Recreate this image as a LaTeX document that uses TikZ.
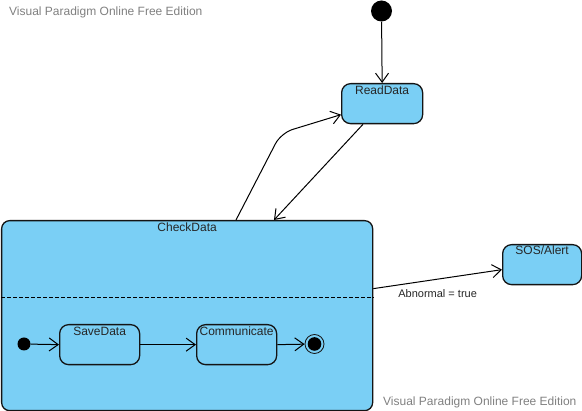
\documentclass[tikz,border=0pt]{standalone}
\usepackage{fontspec}
\setmainfont{Liberation Sans}
\usetikzlibrary{arrows.meta}
\definecolor{stfill}{RGB}{122,207,245}
\definecolor{stline}{RGB}{20,20,20}
\definecolor{wmgray}{RGB}{128,128,128}
\tikzset{
  statebox/.style={draw=stline, fill=stfill, line width=1.3pt, rounded corners=9pt, anchor=north west, inner sep=0pt},
  stlabel/.style={font=\fontsize{12}{14}\selectfont, text=black!85, inner sep=0pt},
  initdot/.style={circle, fill=black, inner sep=0pt},
  trans/.style={draw=black, line width=1pt, -{Straight Barb[length=9pt,width=13pt,line width=1pt]}},
  watermark/.style={font=\fontsize{12}{14}\selectfont, text=wmgray, inner sep=0pt, anchor=west}
}
\begin{document}
\begin{tikzpicture}[x=1pt,y=-1pt]
\useasboundingbox (0,0) rectangle (582,411);
% watermarks
\node[watermark] (wm1) at (9,12) {Visual Paradigm Online Free Edition};
\node[watermark] (wm2) at (383,402) {Visual Paradigm Online Free Edition};
% states
\node[statebox, minimum width=81pt, minimum height=40pt] (rd) at (341,83) {};
\node[stlabel, anchor=north] (rdt) at ([yshift=-3pt]rd.north) {ReadData};
\node[statebox, minimum width=79pt, minimum height=40pt] (sos) at (502,244) {};
\node[stlabel, anchor=north] (sost) at ([yshift=-2pt]sos.north) {SOS/Alert};
\node[statebox, rounded corners=8pt, minimum width=371pt, minimum height=190pt] (cd) at (1,220) {};
\node[stlabel, anchor=north] (cdt) at ([yshift=-3pt]cd.north) {CheckData};
\draw[line width=0.8pt, dash pattern=on 4pt off 2pt] (cd.west |- 0,297) -- (cd.east |- 0,297);
% inner states
\node[statebox, minimum width=80pt, minimum height=40pt] (sd) at (59,324) {};
\node[stlabel, anchor=north] (sdt) at ([yshift=-3pt]sd.north) {SaveData};
\node[statebox, minimum width=80pt, minimum height=40pt] (cm) at (196,324) {};
\node[stlabel, anchor=north] (cmt) at ([yshift=-3pt]cm.north) {Communicate};
% pseudo states
\node[initdot, minimum size=21pt] (init) at (381.5,11) {};
\node[initdot, minimum size=13pt] (init2) at (24,344) {};
\node[circle, draw=stline, line width=0.8pt, minimum size=19pt, inner sep=0pt,
  path picture={\fill[black] (path picture bounding box.center) circle (6.8pt);}] (fin) at (314.5,344) {};
% transitions
\draw[trans] (init) -- (rd.north);
\draw[trans, rounded corners=12pt] ([xshift=235pt]cd.north west) -- (281,133) -- ([yshift=-11pt]rd.west);
\draw[trans] ([xshift=22pt]rd.south west) -- ([xshift=273pt]cd.north west);
\draw[trans] ([yshift=27pt]cd.east) -- node[below=10pt, pos=0.5, font=\fontsize{11}{13}\selectfont, text=black!85, inner sep=0pt] (ab) {Abnormal = true} ([yshift=-5pt]sos.west);
\draw[trans] (init2) -- (sd.west);
\draw[trans] (sd.east) -- (cm.west);
\draw[trans] (cm.east) -- (fin);
\end{tikzpicture}
\end{document}
